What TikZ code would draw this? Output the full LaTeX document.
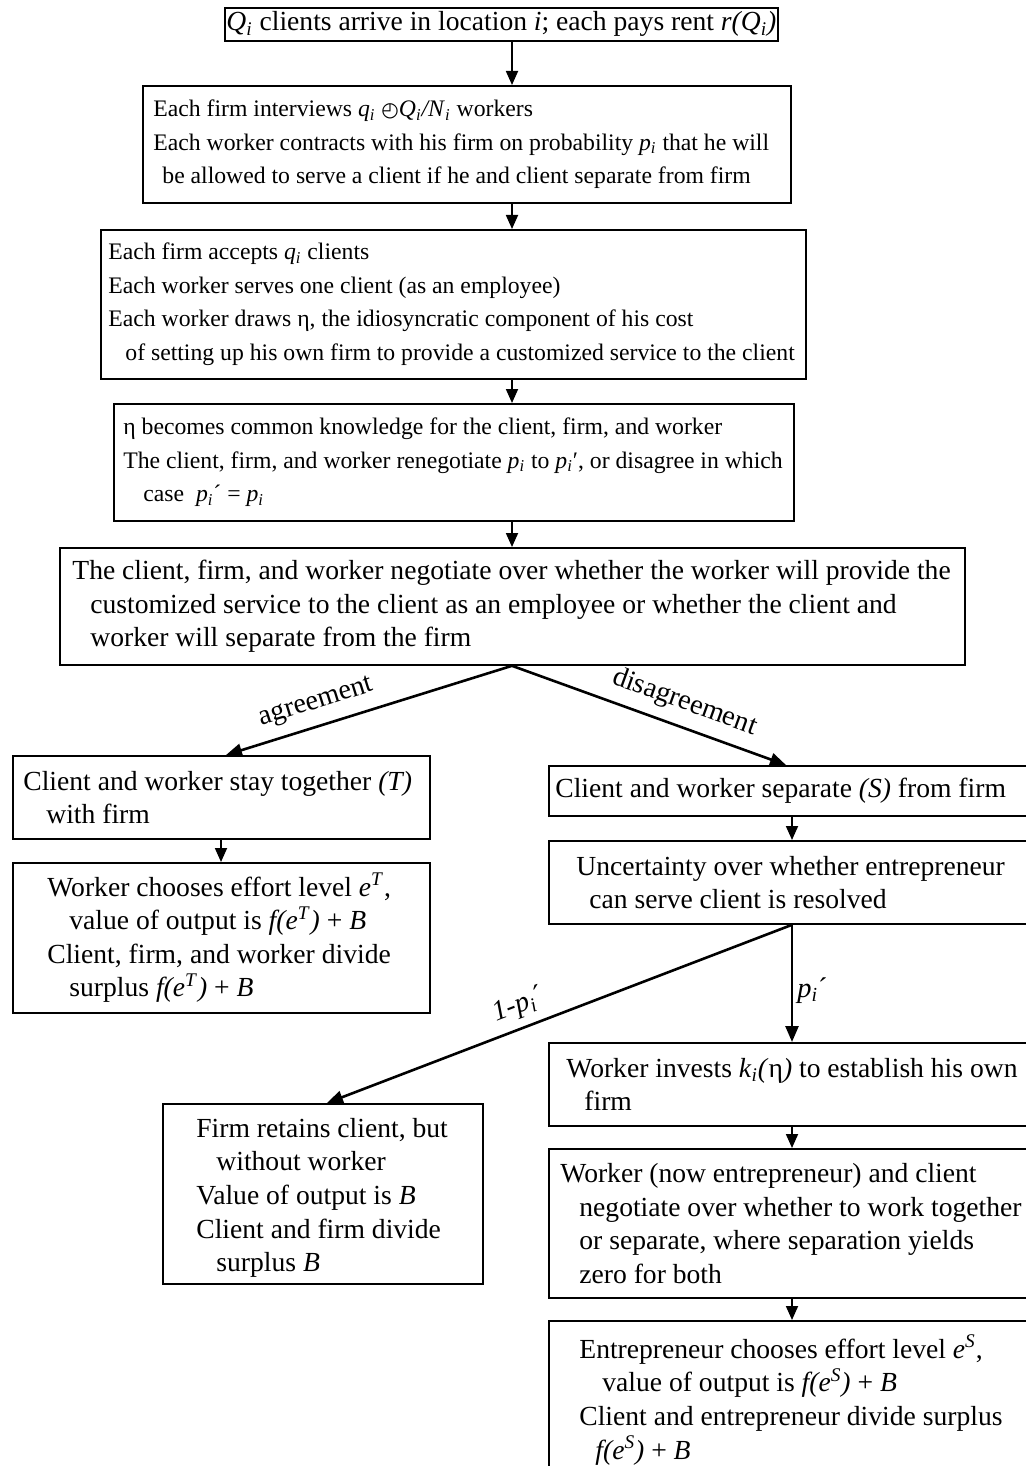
\documentclass[tikz,border=0pt]{standalone}
\usepackage{fontspec}
\setmainfont{Liberation Serif}
\newfontfamily\dejavu{DejaVu Sans}
\usetikzlibrary{arrows.meta}
\newcommand{\iv}[1]{\textit{#1}}
\newcommand{\sbi}[1]{\textsubscript{\textit{#1}}}
\newcommand{\spi}[1]{\textsuperscript{\textit{#1}}}
\newcommand{\ind}[1]{\hspace*{#1}}
\tikzset{
  box/.style={draw, line width=0.9pt, rectangle, inner sep=0pt, anchor=north west},
  txt/.style={anchor=west, align=left, inner sep=0pt, font=\fontsize{13.8pt}{16.8pt}\selectfont},
  stxt/.style={txt, font=\fontsize{11.85pt}{16.8pt}\selectfont},
  arr/.style={-{Triangle[length=7pt,width=6pt]}, line width=0.9pt},
  darr/.style={-{Triangle[length=8pt,width=6.5pt]}, line width=1.3pt},
  lab/.style={font=\fontsize{14.2pt}{16.8pt}\selectfont, inner sep=2pt}
}
\begin{document}
\begin{tikzpicture}[x=0.5pt,y=-0.5pt]
\useasboundingbox (0,0) rectangle (1026,1466);
\clip (0,0) rectangle (1026,1466);
\fill[white] (0,0) rectangle (1026,1466);
% column coordinates
\coordinate (ax) at (512,0);
\coordinate (tx) at (226,0);
\coordinate (wx) at (221,0);
\coordinate (sx) at (786,0);
\coordinate (rx) at (792,0);
\coordinate (fx) at (327,0);

% boxes
\node[box, minimum width=276.5pt, minimum height=16.5pt, font=\fontsize{13.8pt}{16.8pt}\selectfont] (b1) at (224,7)
  {\iv{Q}\sbi{i} clients arrive in location \iv{i}; each pays rent \iv{r(Q}\sbi{i}\iv{)}};

\node[box, minimum width=324pt, minimum height=58.5pt] (b2) at (142,85) {};
\node[stxt] at ([xshift=5.5pt]b2.west) {Each firm interviews \iv{q}\sbi{i} {\dejavu\fontsize{10pt}{13pt}\selectfont ◴}\iv{Q}\sbi{i}\iv{/N}\sbi{i} workers\\
Each worker contracts with his firm on probability \iv{p}\sbi{i} that he will\\
\ind{4.5pt}be allowed to serve a client if he and client separate from firm};

\node[box, minimum width=352.5pt, minimum height=74.5pt] (b3) at (100,229) {};
\node[stxt] at ([xshift=4pt]b3.west) {Each firm accepts \iv{q}\sbi{i} clients\\
Each worker serves one client (as an employee)\\
Each worker draws η, the idiosyncratic component of his cost\\
\ind{8.5pt}of setting up his own firm to provide a customized service to the client};

\node[box, minimum width=340pt, minimum height=58.5pt] (b4) at (113,403) {};
\node[stxt] at ([xshift=5pt]b4.west) {η becomes common knowledge for the client, firm, and worker\\
The client, firm, and worker renegotiate \iv{p}\sbi{i} to \iv{p}\sbi{i}′, or disagree in which\\
\ind{10pt}case~ \iv{p}\sbi{i}´ = \iv{p}\sbi{i}};

\node[box, minimum width=452.5pt, minimum height=58.5pt] (b5) at (59,547) {};
\node[txt] at ([xshift=6.5pt]b5.west) {The client, firm, and worker negotiate over whether the worker will provide the\\
\ind{9pt}customized service to the client as an employee or whether the client and\\
\ind{9pt}worker will separate from the firm};

\node[box, minimum width=208.5pt, minimum height=41.5pt] (bt) at (12,755) {};
\node[txt] at ([xshift=5.5pt]bt.west) {Client and worker stay together \iv{(T)}\\
\ind{11.5pt}with firm};

\node[box, minimum width=208.5pt, minimum height=75pt] (bw) at (12,862) {};
\node[txt] at ([xshift=17.5pt]bw.west) {Worker chooses effort level \iv{e}\spi{T},\\
\ind{11pt}value of output is \iv{f(e}\spi{T}\iv{)} + \iv{B}\\
Client, firm, and worker divide\\
\ind{11pt}surplus \iv{f(e}\spi{T}\iv{)} + \iv{B}};

\node[box, minimum width=250pt, minimum height=25pt] (bs) at (548,765) {};
\node[txt] at ([xshift=3.5pt]bs.west) {Client and worker separate \iv{(S)} from firm};

\node[box, minimum width=250pt, minimum height=41.5pt] (bu) at (548,840) {};
\node[txt] at ([xshift=14pt]bu.west) {Uncertainty over whether entrepreneur\\
\ind{6.5pt}can serve client is resolved};

\node[box, minimum width=250pt, minimum height=41.5pt] (bk) at (548,1042) {};
\node[txt] at ([xshift=9pt]bk.west) {Worker invests \iv{k}\sbi{i}\iv{(}η\iv{)} to establish his own\\
\ind{9pt}firm};

\node[box, minimum width=160pt, minimum height=90pt] (bf) at (162,1103) {};
\node[txt] at ([xshift=17pt,yshift=-2pt]bf.west) {Firm retains client, but\\
\ind{10pt}without worker\\
Value of output is \iv{B}\\
Client and firm divide\\
\ind{10pt}surplus \iv{B}};

\node[box, minimum width=250pt, minimum height=74.5pt] (bn) at (548,1148) {};
\node[txt] at ([xshift=6pt]bn.west) {Worker (now entrepreneur) and client\\
\ind{9.5pt}negotiate over whether to work together\\
\ind{9.5pt}or separate, where separation yields\\
\ind{9.5pt}zero for both};

\node[box, minimum width=250pt, minimum height=79pt] (be) at (548,1320) {};
\node[txt] at ([xshift=15.5pt]be.west) {Entrepreneur chooses effort level \iv{e}\spi{S},\\
\ind{11.5pt}value of output is \iv{f(e}\spi{S}\iv{)} + \iv{B}\\
Client and entrepreneur divide surplus\\
\ind{8pt}\iv{f(e}\spi{S}\iv{)} + \iv{B}};

% connectors
\draw[arr] (b1.south -| ax) -- (b2.north -| ax);
\draw[arr] (b2.south -| ax) -- (b3.north -| ax);
\draw[arr] (b3.south -| ax) -- (b4.north -| ax);
\draw[arr] (b4.south -| ax) -- (b5.north -| ax);
\draw[darr] (b5.south -| ax) -- node[lab, sloped, above=3pt, pos=0.66] {agreement} (bt.north -| tx);
\draw[darr] (b5.south -| ax) -- node[lab, sloped, above=3pt, pos=0.6] {disagreement} (bs.north -| sx);
\draw[arr] (bt.south -| wx) -- (bw.north -| wx);
\draw[arr] (bs.south -| rx) -- (bu.north -| rx);
\draw[darr] (bu.south -| rx) -- node[lab, sloped, above=2pt, pos=0.57] {\iv{1-p}\sbi{i}´} (bf.north -| fx);
\draw[darr] (bu.south -| rx) -- node[lab, right, pos=0.56] {\iv{p}\sbi{i}´} (bk.north -| rx);
\draw[arr] (bk.south -| rx) -- (bn.north -| rx);
\draw[arr] (bn.south -| rx) -- (be.north -| rx);
\end{tikzpicture}
\end{document}
